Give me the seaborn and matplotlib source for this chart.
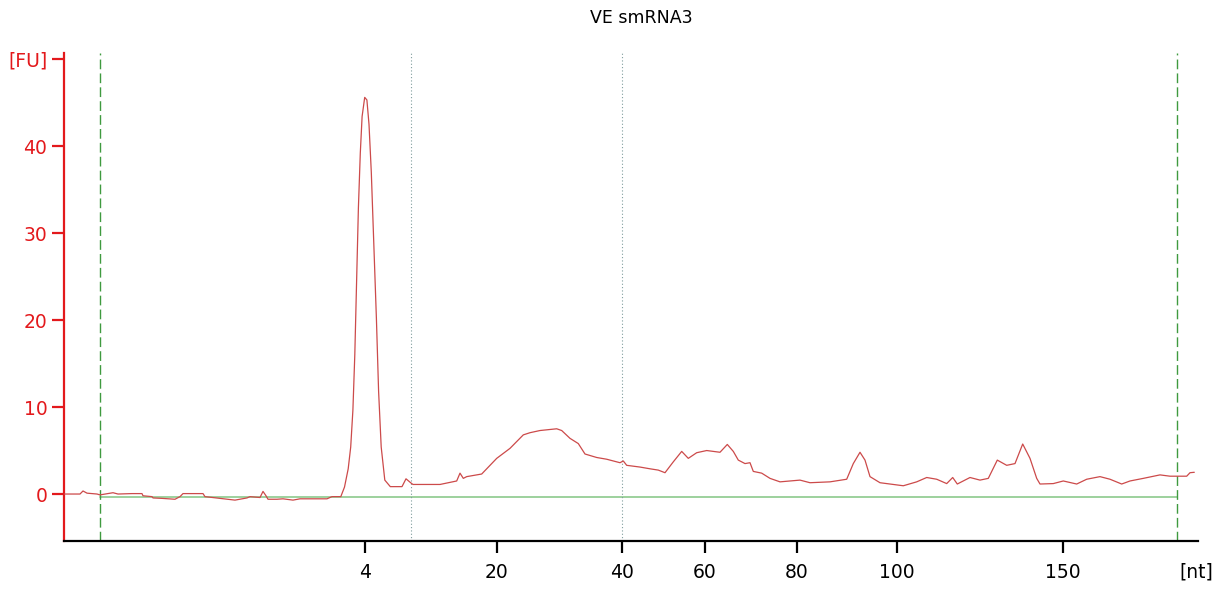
import matplotlib
matplotlib.use('Agg')
import matplotlib.pyplot as plt
import seaborn as sns
import pandas as pd

# electropherogram trace (x = migration position, y = fluorescence units)
pos = [64, 80, 83, 87, 97, 100, 105, 110, 113, 118, 132, 142, 143, 152, 153, 162, 175, 180, 183,
       203, 205, 220, 235, 247, 250, 260, 263, 266, 268, 277, 283, 293, 300, 327, 332, 338,
       340.8, 344.5, 348.2, 350.7, 352.9, 354.8, 356.6, 358.4, 360.3, 362.1, 364.7, 366.9, 369,
       371.3, 373.8, 376.4, 378.6, 381.2, 384.8, 390.3, 393, 402, 406, 411.7, 413, 440, 456.7,
       460, 463.3, 466.7, 481.7, 496.7, 510, 523.3, 530, 540, 556.7, 561.7, 570, 578.3, 585,
       596.7, 606.7, 620, 623.3, 626.7, 640, 650, 658.3, 665, 673.3, 681.7, 688.3, 696.7, 706.7,
       720, 727.3, 733.3, 738.3, 745, 750, 753.3, 761.7, 770, 780, 800, 810, 830, 846.7, 853.3,
       860, 865, 870, 880, 890, 903.3, 916.7, 926.7, 936.7, 946.7, 952.7, 957.3, 970, 980, 988.3,
       997.3, 1006.7, 1015, 1022.7, 1030, 1036.7, 1040, 1053.3, 1063.3, 1076.7, 1086.7, 1100,
       1110, 1121.7, 1130, 1143.3, 1160, 1170, 1186.7, 1190, 1194.3]
fu = [0.0, 0.0, 0.35, 0.1, 0.0, -0.1, 0.0, 0.1, 0.15, 0.0, 0.05, 0.05, -0.2, -0.3, -0.45, -0.5,
      -0.6, -0.3, 0.05, 0.05, -0.3, -0.5, -0.7, -0.45, -0.3, -0.4, 0.3, -0.2, -0.6, -0.6, -0.55,
      -0.7, -0.55, -0.55, -0.3, -0.3, -0.3, 0.8, 2.9, 5.4, 9.65, 16.0, 24.4, 32.9, 39.2, 43.4,
      45.6, 45.3, 42.5, 37.0, 28.6, 20.2, 11.8, 5.4, 1.6, 0.85, 0.85, 0.85, 1.75, 1.2, 1.1, 1.1,
      1.5, 2.4, 1.8, 2.0, 2.3, 4.1, 5.25, 6.8, 7.05, 7.3, 7.5, 7.3, 6.4, 5.8, 4.6, 4.2, 4.0, 3.6,
      3.8, 3.3, 3.1, 2.9, 2.75, 2.45, 3.7, 4.9, 4.1, 4.75, 5.0, 4.8, 5.7, 4.9, 3.9, 3.5, 3.6,
      2.6, 2.4, 1.8, 1.4, 1.6, 1.3, 1.4, 1.7, 3.5, 4.8, 3.9, 2.0, 1.3, 1.15, 0.95, 1.4, 1.9,
      1.7, 1.2, 1.9, 1.15, 1.9, 1.6, 1.8, 3.9, 3.3, 3.5, 5.75, 4.1, 1.8, 1.15, 1.2, 1.5, 1.15,
      1.7, 2.0, 1.7, 1.15, 1.5, 1.8, 2.2, 2.05, 2.05, 2.45, 2.5]

# size ladder ticks
nt_pos = [365, 496.5, 622, 705, 797, 897, 1063]
nt_labels = ['4', '20', '40', '60', '80', '100', '150']
fu_ticks = [0, 10, 20, 30, 40, 50]
fu_labels = ['0', '10', '20', '30', '40', '[FU]']

# markers: lower/upper alignment markers, dotted region bounds, baseline
markers = [100, 1177]
region = [411, 622]
baseline = -0.3

df = pd.DataFrame({'pos': pos, 'fu': fu})

sns.set_style('white')
plt.rcParams['font.family'] = ['DejaVu Sans']

fig = plt.figure(figsize=(12.16, 5.9), dpi=100)
ax = fig.add_axes([64 / 1216, 1 - 541 / 590, (1198 - 64) / 1216, (541 - 53) / 590])

red = '#e3191c'

# baseline and marker lines
ax.plot(markers, [baseline, baseline], color='#8cc98c', lw=1.2, zorder=1)
for m in markers:
    ax.axvline(m, color='#3f9a3f', lw=1.0, ls=(0, (7, 3)), zorder=1)
for r in region:
    ax.axvline(r, color='#7f9c9c', lw=0.8, ls=(0, (1, 2)), zorder=1)

sns.lineplot(data=df, x='pos', y='fu', color='#cc4a4a', lw=0.9, ax=ax, zorder=3)

ax.set_xlim(64, 1198)
ax.set_ylim(-5.4, 50.7)
ax.set_xlabel('')
ax.set_ylabel('')

ax.set_xticks(nt_pos)
ax.set_xticklabels(nt_labels)
ax.set_yticks(fu_ticks)
ax.set_yticklabels(fu_labels)

for s in ['top', 'right']:
    ax.spines[s].set_visible(False)
ax.spines['left'].set_color(red)
ax.spines['left'].set_linewidth(1.6)
ax.spines['bottom'].set_color('black')
ax.spines['bottom'].set_linewidth(1.6)

ax.tick_params(axis='y', colors=red, labelcolor=red, length=8.5, width=1.6,
               direction='out', left=True, labelsize=13.5, pad=3.5)
ax.tick_params(axis='x', colors='black', length=8.5, width=1.6,
               direction='out', bottom=True, labelsize=13.5, pad=7)

ax.text(1196, -5.4, '[nt]', transform=ax.transData, ha='center', va='top',
        fontsize=13.5, color='black')
ax.texts[-1].set_position((1196, -5.4 - 22 / 8.7))

fig.text(641 / 1216, 1 - 18 / 590, 'VE smRNA3', ha='center', va='center',
         fontsize=12.5, color='black')

fig.savefig('out.png', dpi=100)
